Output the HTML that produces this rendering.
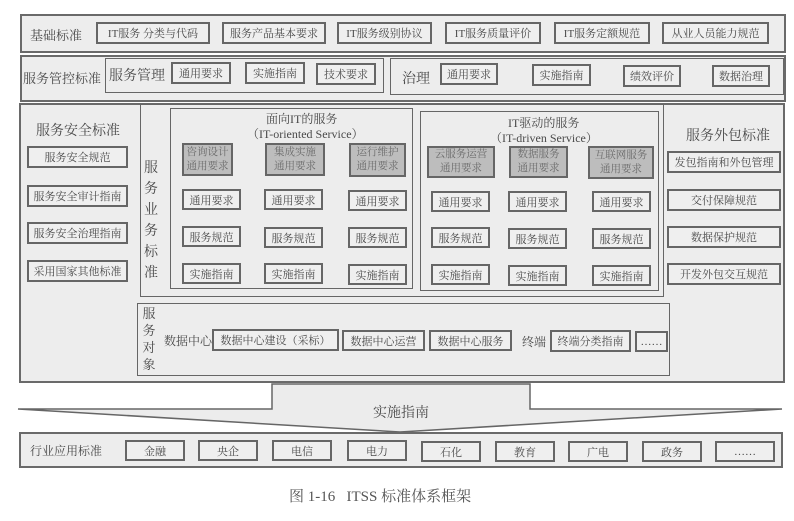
<!DOCTYPE html>
<html><head><meta charset="utf-8"><style>
body{margin:0;width:794px;height:521px;background:#fff;position:relative;overflow:hidden;font-family:"Liberation Serif","Noto Serif CJK SC",serif;color:#4a4a4a}
.f{position:absolute;border:2px solid #6a6a6a;background:#ededed;box-sizing:border-box}
.i{position:absolute;border:1.5px solid #666;box-sizing:border-box}
.b{position:absolute;border:2px solid #666;box-sizing:border-box;display:flex;align-items:center;justify-content:center;font-size:11px;white-space:nowrap;background:#efefef}
.g{background:#bdbdbd;color:#6a6a6a;flex-direction:column;line-height:14px;font-size:10.5px}
.t{position:absolute;font-size:13px;white-space:nowrap}
.v{position:absolute;font-size:14px;line-height:21px;width:16px;text-align:center}
</style></head><body>
<div class="f" style="left:20px;top:14px;width:766px;height:39px"></div>
<div class="t" style="left:30px;top:25px">基础标准</div>
<div class="b" style="left:96px;top:22px;width:114px;height:22px">IT服务 分类与代码</div>
<div class="b" style="left:222px;top:22px;width:104px;height:22px">服务产品基本要求</div>
<div class="b" style="left:337px;top:22px;width:95px;height:22px">IT服务级别协议</div>
<div class="b" style="left:445px;top:22px;width:96px;height:22px">IT服务质量评价</div>
<div class="b" style="left:554px;top:22px;width:96px;height:22px">IT服务定额规范</div>
<div class="b" style="left:662px;top:22px;width:107px;height:22px">从业人员能力规范</div>
<div class="f" style="left:20px;top:55px;width:766px;height:47px"></div>
<div class="t" style="left:23px;top:68px">服务管控标准</div>
<div class="i" style="left:105px;top:58px;width:279px;height:35px"></div>
<div class="t" style="left:109px;top:65px;font-size:14px">服务管理</div>
<div class="b" style="left:171px;top:62px;width:60px;height:22px">通用要求</div>
<div class="b" style="left:245px;top:62px;width:60px;height:22px">实施指南</div>
<div class="b" style="left:316px;top:63px;width:60px;height:22px">技术要求</div>
<div class="i" style="left:390px;top:58px;width:394px;height:37px"></div>
<div class="t" style="left:402px;top:68px;font-size:14px">治理</div>
<div class="b" style="left:440px;top:63px;width:58px;height:22px">通用要求</div>
<div class="b" style="left:532px;top:64px;width:59px;height:22px">实施指南</div>
<div class="b" style="left:623px;top:65px;width:58px;height:22px">绩效评价</div>
<div class="b" style="left:712px;top:65px;width:58px;height:22px">数据治理</div>
<div class="f" style="left:19px;top:103px;width:766px;height:280px"></div>
<div class="t" style="left:36px;top:120px;font-size:14px">服务安全标准</div>
<div class="b" style="left:27px;top:146px;width:101px;height:22px">服务安全规范</div>
<div class="b" style="left:27px;top:185px;width:101px;height:22px">服务安全审计指南</div>
<div class="b" style="left:27px;top:222px;width:101px;height:22px">服务安全治理指南</div>
<div class="b" style="left:27px;top:260px;width:101px;height:22px">采用国家其他标准</div>
<div class="t" style="left:686px;top:125px;font-size:14px">服务外包标准</div>
<div class="b" style="left:667px;top:151px;width:114px;height:22px">发包指南和外包管理</div>
<div class="b" style="left:667px;top:189px;width:114px;height:22px">交付保障规范</div>
<div class="b" style="left:667px;top:226px;width:114px;height:22px">数据保护规范</div>
<div class="b" style="left:667px;top:263px;width:114px;height:22px">开发外包交互规范</div>
<div class="i" style="left:140px;top:104px;width:524px;height:193px"></div>
<div class="v" style="left:143px;top:158px">服务业务标准</div>
<div class="i" style="left:170px;top:108px;width:243px;height:181px"></div>
<div class="t" style="left:266px;top:110px;font-size:12px">面向IT的服务</div>
<div class="t" style="left:247px;top:125px;font-size:12px">（IT-oriented Service）</div>
<div class="i" style="left:420px;top:111px;width:239px;height:180px"></div>
<div class="t" style="left:508px;top:114px;font-size:12px">IT驱动的服务</div>
<div class="t" style="left:490px;top:129px;font-size:12px">（IT-driven Service）</div>
<div class="b g" style="left:182px;top:143px;width:51px;height:33px"><span>咨询设计</span><span>通用要求</span></div>
<div class="b g" style="left:265px;top:143px;width:60px;height:33px"><span>集成实施</span><span>通用要求</span></div>
<div class="b g" style="left:349px;top:143px;width:57px;height:34px"><span>运行维护</span><span>通用要求</span></div>
<div class="b g" style="left:427px;top:146px;width:68px;height:32px"><span>云服务运营</span><span>通用要求</span></div>
<div class="b g" style="left:509px;top:146px;width:59px;height:32px"><span>数据服务</span><span>通用要求</span></div>
<div class="b g" style="left:588px;top:146px;width:66px;height:33px"><span>互联网服务</span><span>通用要求</span></div>
<div class="b" style="left:182px;top:189px;width:59px;height:21px">通用要求</div>
<div class="b" style="left:264px;top:189px;width:59px;height:21px">通用要求</div>
<div class="b" style="left:348px;top:190px;width:59px;height:21px">通用要求</div>
<div class="b" style="left:431px;top:191px;width:59px;height:21px">通用要求</div>
<div class="b" style="left:508px;top:191px;width:59px;height:21px">通用要求</div>
<div class="b" style="left:592px;top:191px;width:59px;height:21px">通用要求</div>
<div class="b" style="left:182px;top:226px;width:59px;height:21px">服务规范</div>
<div class="b" style="left:264px;top:227px;width:59px;height:21px">服务规范</div>
<div class="b" style="left:348px;top:227px;width:59px;height:21px">服务规范</div>
<div class="b" style="left:431px;top:227px;width:59px;height:21px">服务规范</div>
<div class="b" style="left:508px;top:228px;width:59px;height:21px">服务规范</div>
<div class="b" style="left:592px;top:228px;width:59px;height:21px">服务规范</div>
<div class="b" style="left:182px;top:263px;width:59px;height:21px">实施指南</div>
<div class="b" style="left:264px;top:263px;width:59px;height:21px">实施指南</div>
<div class="b" style="left:348px;top:264px;width:59px;height:21px">实施指南</div>
<div class="b" style="left:431px;top:264px;width:59px;height:21px">实施指南</div>
<div class="b" style="left:508px;top:265px;width:59px;height:21px">实施指南</div>
<div class="b" style="left:592px;top:265px;width:59px;height:21px">实施指南</div>
<div class="i" style="left:137px;top:303px;width:533px;height:73px"></div>
<div class="v" style="left:141px;top:305px;font-size:13px;line-height:17px">服务对象</div>
<div class="t" style="left:164px;top:332px;font-size:12px">数据中心</div>
<div class="b" style="left:212px;top:329px;width:127px;height:22px">数据中心建设（采标）</div>
<div class="b" style="left:342px;top:330px;width:83px;height:21px">数据中心运营</div>
<div class="b" style="left:429px;top:330px;width:83px;height:21px">数据中心服务</div>
<div class="t" style="left:522px;top:333px;font-size:12px">终端</div>
<div class="b" style="left:550px;top:330px;width:81px;height:22px">终端分类指南</div>
<div class="b" style="left:635px;top:331px;width:33px;height:21px">……</div>
<svg style="position:absolute;left:0;top:0" width="794" height="521">
<polygon points="272,384 530,384 530,409 782,409 400,432 18,409 272,409" fill="#ececec" stroke="#666" stroke-width="1.5"/>
</svg>
<div class="t" style="left:373px;top:402px;font-size:14px">实施指南</div>
<div class="f" style="left:19px;top:432px;width:764px;height:36px"></div>
<div class="t" style="left:30px;top:442px;font-size:12px">行业应用标准</div>
<div class="b" style="left:125px;top:440px;width:60px;height:21px">金融</div>
<div class="b" style="left:198px;top:440px;width:60px;height:21px">央企</div>
<div class="b" style="left:272px;top:440px;width:60px;height:21px">电信</div>
<div class="b" style="left:347px;top:440px;width:60px;height:21px">电力</div>
<div class="b" style="left:421px;top:441px;width:60px;height:21px">石化</div>
<div class="b" style="left:495px;top:441px;width:60px;height:21px">教育</div>
<div class="b" style="left:568px;top:441px;width:60px;height:21px">广电</div>
<div class="b" style="left:642px;top:441px;width:60px;height:21px">政务</div>
<div class="b" style="left:715px;top:441px;width:60px;height:21px">……</div>
<div class="t" style="left:289px;top:485px;font-size:15px;color:#555">图 1-16&nbsp;&nbsp;&nbsp;ITSS 标准体系框架</div>
</body></html>
